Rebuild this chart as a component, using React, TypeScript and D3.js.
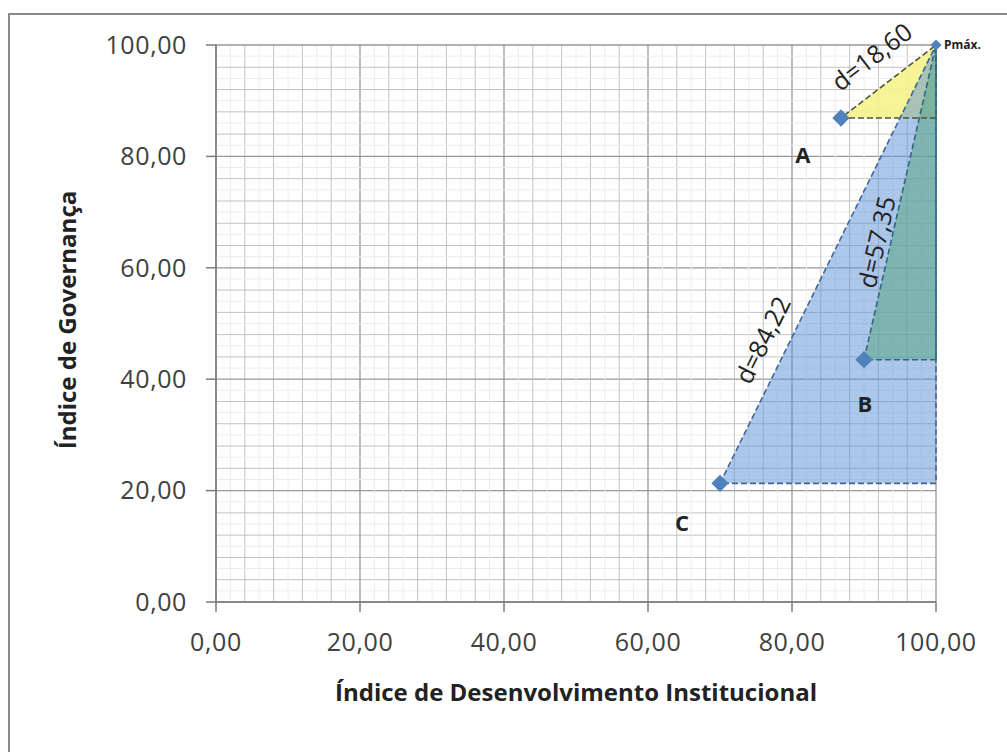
import React from "react";
import * as d3 from "d3";

const pointNames = ["A", "B", "C"];
const pointX = [86.8, 90.0, 70.0];
const pointY = [86.9, 43.5, 21.3];
const distLabels = ["d=18,60", "d=57,35", "d=84,22"];
const pmaxName = "Pmáx.";
const pmaxX = 100;
const pmaxY = 100;
const xTicks = [0, 20, 40, 60, 80, 100];
const yTicks = [0, 20, 40, 60, 80, 100];
const xTitle = "Índice de Desenvolvimento Institucional";
const yTitle = "Índice de Governança";

const W = 1007;
const H = 752;
const FONT = "'Open Sans', Lato, sans-serif";

const fills: Record<string, { fill: string; opacity: number; stroke: string }> = {
  A: { fill: "#f6f38c", opacity: 0.9, stroke: "#4b5636" },
  C: { fill: "#5b8fd6", opacity: 0.5, stroke: "#3d679c" },
  B: { fill: "#5fa88e", opacity: 0.6, stroke: "#2e6a78" },
};

const fmt = (v: number) => v.toFixed(2).replace(".", ",");

export default function App() {
  const x = d3.scaleLinear().domain([0, 100]).range([216, 936]);
  const y = d3.scaleLinear().domain([0, 100]).range([602, 45]);

  const grid2 = d3.range(0, 101, 2);
  const drawOrder = [0, 2, 1];

  const line = d3.line<[number, number]>().x((d) => x(d[0])).y((d) => y(d[1]));

  const labelPos = [
    [872, 57],
    [877, 242],
    [763, 340],
  ];
  const nameOffsets = [
    [-38, 45],
    [1, 52],
    [-38, 48],
  ];

  const diamond = (size: number) => d3.symbol(d3.symbolSquare, size)()!;

  return (
    <svg width={W} height={H} style={{ display: "block", position: "absolute", left: 0, top: 0 }}>
      <rect x={0} y={0} width={W} height={H} fill="#ffffff" />
      <rect x={9} y={14} width={1100} height={800} fill="none" stroke="#8a8a8a" strokeWidth={2} />
      {/* grid */}
      <g>
        {grid2.map((v) => {
          const c = v % 20 === 0 ? "#999999" : v % 4 === 0 ? "#c2c2c2" : "#ececec";
          const w = v % 20 === 0 ? 1.3 : 1;
          return (
            <g key={"g" + v}>
              <line x1={x(v)} x2={x(v)} y1={y(0)} y2={y(100)} stroke={c} strokeWidth={w} />
              <line x1={x(0)} x2={x(100)} y1={y(v)} y2={y(v)} stroke={c} strokeWidth={w} />
            </g>
          );
        })}
      </g>
      {/* axes */}
      <line x1={x(0)} x2={x(0)} y1={y(0)} y2={y(100)} stroke="#7a7a7a" strokeWidth={1.5} />
      <line x1={x(0)} x2={x(100)} y1={y(0)} y2={y(0)} stroke="#7a7a7a" strokeWidth={1.5} />
      {yTicks.map((t) => (
        <g key={"yt" + t}>
          <line x1={x(0) - 10} x2={x(0)} y1={y(t)} y2={y(t)} stroke="#7a7a7a" strokeWidth={1.5} />
          <text x={187} y={y(t)} dy="0.35em" textAnchor="end" fontFamily={FONT} fontSize={25} letterSpacing={0.6} fill="#404040">
            {fmt(t)}
          </text>
        </g>
      ))}
      {xTicks.map((t) => (
        <g key={"xt" + t}>
          <line x1={x(t)} x2={x(t)} y1={y(0)} y2={y(0) + 10} stroke="#7a7a7a" strokeWidth={1.5} />
          <text x={x(t)} y={651} textAnchor="middle" fontFamily={FONT} fontSize={25} letterSpacing={0.6} fill="#404040">
            {fmt(t)}
          </text>
        </g>
      ))}
      <text x={576} y={701} textAnchor="middle" fontFamily={FONT} fontSize={24} fontWeight="bold" fill="#222">
        {xTitle}
      </text>
      <text
        transform={`translate(76,320) rotate(-90)`}
        textAnchor="middle"
        fontFamily={FONT}
        fontSize={24}
        fontWeight="bold"
        fill="#222"
      >
        {yTitle}
      </text>
      {/* triangles */}
      {drawOrder.map((i) => {
        const s = fills[pointNames[i]];
        const pts: [number, number][] = [
          [pointX[i], pointY[i]],
          [pmaxX, pmaxY],
          [pmaxX, pointY[i]],
        ];
        return (
          <path key={"tri" + i} d={line(pts)! + "Z"} fill={s.fill} fillOpacity={s.opacity} stroke="none" />
        );
      })}
      {drawOrder.map((i) => {
        const s = fills[pointNames[i]];
        const pts: [number, number][] = [
          [pmaxX, pointY[i]],
          [pointX[i], pointY[i]],
          [pmaxX, pmaxY],
          [pmaxX, pointY[i]],
        ];
        return (
          <path
            key={"edge" + i}
            d={line(pts)!}
            fill="none"
            stroke={s.stroke}
            strokeWidth={1.6}
            strokeDasharray="6,3"
          />
        );
      })}
      {/* markers */}
      {pointNames.map((n, i) => (
        <path
          key={"m" + n}
          d={diamond(150)}
          transform={`translate(${x(pointX[i])},${y(pointY[i])}) rotate(45)`}
          fill="#4f81bd"
        />
      ))}
      <path
        d={diamond(60)}
        transform={`translate(${x(pmaxX)},${y(pmaxY)}) rotate(45)`}
        fill="#4f81bd"
      />
      <text x={x(pmaxX) + 8} y={y(pmaxY)} dy="0.35em" fontFamily={FONT} fontSize={12} fontWeight="bold" fill="#222">
        {pmaxName}
      </text>
      {/* point names */}
      {pointNames.map((n, i) => (
        <text
          key={"n" + n}
          x={x(pointX[i]) + nameOffsets[i][0]}
          y={y(pointY[i]) + nameOffsets[i][1]}
          textAnchor="middle"
          fontFamily={FONT}
          fontSize={22}
          fontWeight="bold"
          fill="#222"
        >
          {n}
        </text>
      ))}
      {/* distance labels */}
      {distLabels.map((lab, i) => {
        const dxp = x(pmaxX) - x(pointX[i]);
        const dyp = y(pmaxY) - y(pointY[i]);
        const ang = (Math.atan2(dyp, dxp) * 180) / Math.PI;
        const [cx, cy] = labelPos[i];
        return (
          <text
            key={"d" + i}
            transform={`translate(${cx},${cy}) rotate(${ang})`}
            textAnchor="middle"
            dy="0.35em"
            fontFamily={FONT}
            fontSize={25}
            fill="#222"
          >
            {lab}
          </text>
        );
      })}
    </svg>
  );
}
